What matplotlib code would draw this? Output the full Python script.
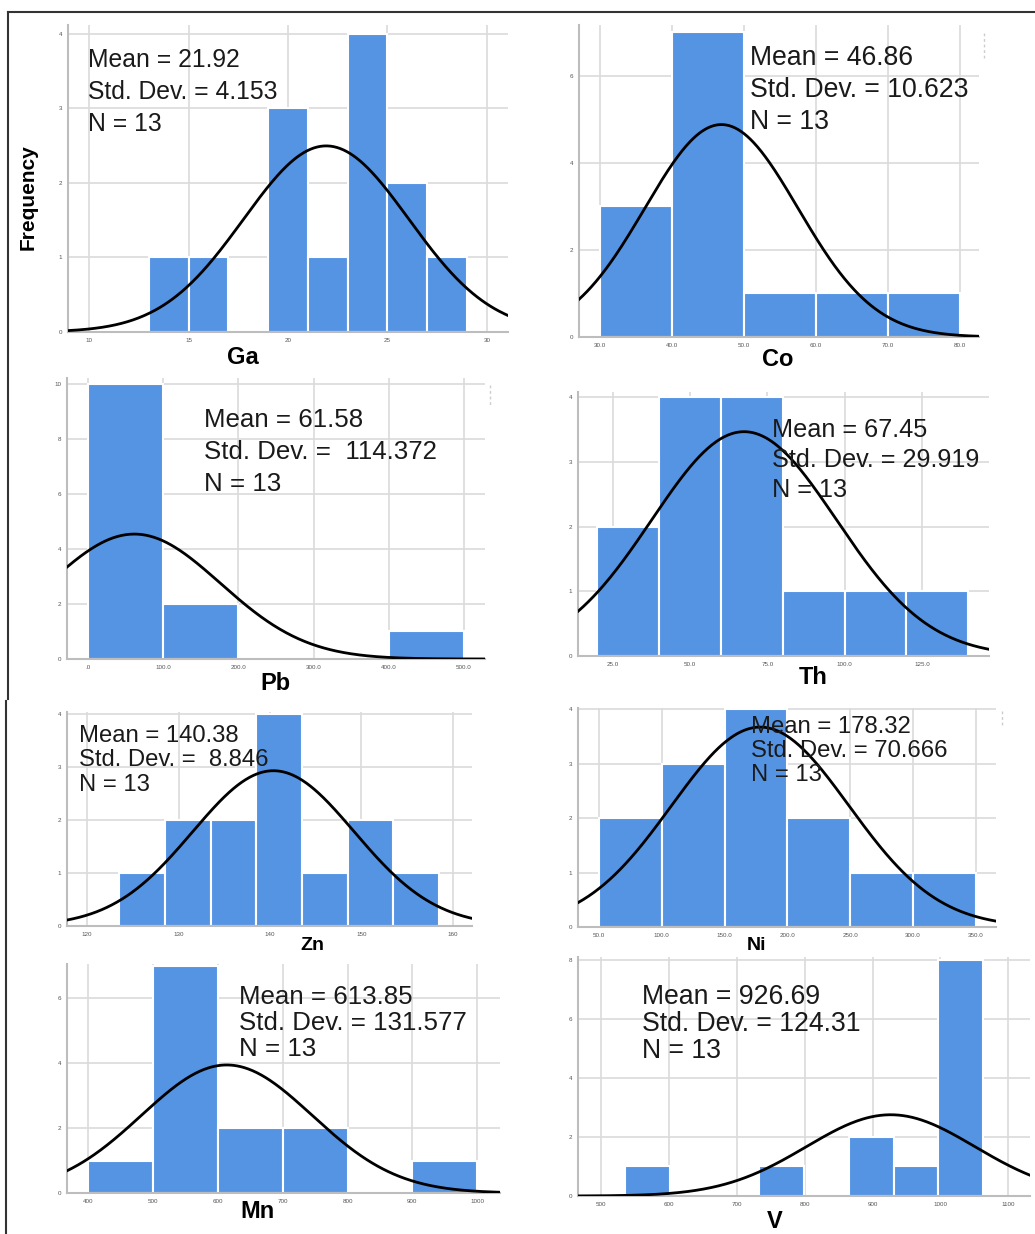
#!/usr/bin/env python3
# -*- coding: utf-8 -*-

import numpy as np
import matplotlib
matplotlib.use('Agg')
import matplotlib.pyplot as plt
from matplotlib.lines import Line2D

plt.rcParams['font.family'] = ['Liberation Sans', 'DejaVu Sans']

W, H = 1035, 1234

# element histograms (13 samples each)
elements = ['Ga', 'Co', 'Pb', 'Th', 'Zn', 'Ni', 'Mn', 'V']
means = [21.92, 46.86, 61.58, 67.45, 140.38, 178.32, 613.85, 926.69]
sds = [4.153, 10.623, 114.372, 29.919, 8.846, 70.666, 131.577, 124.31]
n_obs = [13, 13, 13, 13, 13, 13, 13, 13]
bin_start = [13, 30, 0, 20, 123.5, 50, 400, 535]
bin_width = [2, 10, 100, 20, 5, 50, 100, 66]
counts = [
    [1, 1, 0, 3, 1, 4, 2, 1],
    [3, 7, 1, 1, 1],
    [10, 2, 0, 0, 1],
    [2, 4, 4, 1, 1, 1],
    [1, 2, 2, 4, 1, 2, 1],
    [2, 3, 4, 2, 1, 1],
    [1, 7, 2, 2, 0, 1],
    [1, 0, 0, 1, 0, 2, 1, 8],
]
sd_text = ['4.153', '10.623', ' 114.372', '29.919', ' 8.846', '70.666', '131.577', '124.31']
xticks = [
    [10, 15, 20, 25, 30],
    [30, 40, 50, 60, 70, 80],
    [0, 100, 200, 300, 400, 500],
    [25, 50, 75, 100, 125],
    [120, 130, 140, 150, 160],
    [50, 100, 150, 200, 250, 300, 350],
    [400, 500, 600, 700, 800, 900, 1000],
    [500, 600, 700, 800, 900, 1000, 1100],
]
xtick_labels = [
    ['10', '15', '20', '25', '30'],
    ['30.0', '40.0', '50.0', '60.0', '70.0', '80.0'],
    ['.0', '100.0', '200.0', '300.0', '400.0', '500.0'],
    ['25.0', '50.0', '75.0', '100.0', '125.0'],
    ['120', '130', '140', '150', '160'],
    ['50.0', '100.0', '150.0', '200.0', '250.0', '300.0', '350.0'],
    ['400', '500', '600', '700', '800', '900', '1000'],
    ['500', '600', '700', '800', '900', '1000', '1100'],
]
yticks = [
    [0, 1, 2, 3, 4],
    [0, 2, 4, 6],
    [0, 2, 4, 6, 8, 10],
    [0, 1, 2, 3, 4],
    [0, 1, 2, 3, 4],
    [0, 1, 2, 3, 4],
    [0, 2, 4, 6],
    [0, 2, 4, 6, 8],
]

# panel layout in pixels: left, right, top, bottom, xlim, ylim top
frames = [
    (68, 508, 25, 332, (8.94, 31.06), 4.12),
    (579, 979, 25, 337, (27.1, 82.6), 7.17),
    (67, 485, 378, 659, (-28, 528), 10.2),
    (578, 989, 392, 656, (13.7, 146.7), 4.08),
    (67, 472, 712, 926, (117.8, 162.1), 4.04),
    (578, 996, 708, 927, (33.3, 366), 4.02),
    (67, 500, 964, 1193, (367.6, 1035), 7.05),
    (578, 1030, 957, 1196, (466, 1132), 8.1),
]
# stats box: x, y of first line, font size, line step (px)
stat_pos = [
    (88, 60, 17.8, 32), (750, 58, 19.2, 32), (204, 420, 18.6, 32), (772, 430, 18.2, 30),
    (79, 736, 17.2, 24.5), (751, 727, 17.2, 24), (239, 997, 18.6, 26), (642, 997, 19.2, 27),
]
# x axis title: center x, center y, font size
title_pos = [
    (243, 357, 17), (778, 360, 17), (275, 683, 17), (813, 678, 17),
    (312, 946, 14), (756, 946, 14), (258, 1212, 17), (775, 1222, 17),
]

BAR = '#5594e3'
GRID = '#dadada'


def fx(x):
    return x / W


def fy(y):
    return 1 - y / H


fig = plt.figure(figsize=(W / 100, H / 100), dpi=100)

for i, name in enumerate(elements):
    l, r, t, b, xlim, ytop = frames[i]
    ax = fig.add_axes([fx(l), fy(b), (r - l) / W, (b - t) / H])
    edges = bin_start[i] + bin_width[i] * np.arange(len(counts[i]))
    ax.bar(edges, counts[i], width=bin_width[i], align='edge',
           color=BAR, edgecolor='white', linewidth=1.5, zorder=2)

    xs = np.linspace(xlim[0], xlim[1], 400)
    pdf = np.exp(-0.5 * ((xs - means[i]) / sds[i]) ** 2) / (sds[i] * np.sqrt(2 * np.pi))
    ax.plot(xs, n_obs[i] * bin_width[i] * pdf, color='black', lw=2, zorder=3)

    ax.set_xlim(*xlim)
    ax.set_ylim(0, ytop)
    ax.set_xticks(xticks[i])
    ax.set_xticklabels(xtick_labels[i])
    ax.set_yticks(yticks[i])
    ax.tick_params(length=0, labelsize=4.5, labelcolor='#555555', pad=4)
    ax.grid(True, color=GRID, lw=1.2, zorder=0)
    ax.set_axisbelow(True)
    for s in ('top', 'right'):
        ax.spines[s].set_visible(False)
    for s in ('left', 'bottom'):
        ax.spines[s].set_color('#bdbdbd')
        ax.spines[s].set_linewidth(1.5)

    sx, sy, fs, step = stat_pos[i]
    lines = ['Mean = %.2f' % means[i], 'Std. Dev. = ' + sd_text[i], 'N = %d' % n_obs[i]]
    for k, txt in enumerate(lines):
        fig.text(fx(sx), fy(sy + k * step), txt, fontsize=fs, color='#1a1a1a',
                 ha='left', va='center', zorder=5)

    tx, ty, tfs = title_pos[i]
    fig.text(fx(tx), fy(ty), name, fontsize=tfs, fontweight='bold',
             ha='center', va='center')

fig.text(fx(28), fy(197), 'Frequency', fontsize=15, fontweight='bold',
         rotation=90, ha='center', va='center')

# faint leftover marks at the panel corners
for x, y0, y1 in [(984, 33, 58), (490, 385, 405), (1002, 711, 727)]:
    fig.add_artist(Line2D([fx(x), fx(x)], [fy(y0), fy(y1)], color='#cccccc',
                          lw=1, ls=(0, (2, 2))))

# outer frame lines
fig.add_artist(Line2D([fx(8), 1.0], [fy(12), fy(12)], color='#333333', lw=1.5))
fig.add_artist(Line2D([fx(8), fx(8)], [fy(12), fy(699)], color='#333333', lw=1.5))
fig.add_artist(Line2D([fx(6), fx(6)], [fy(701), 0.0], color='#333333', lw=1.5))

fig.savefig('out.png', dpi=100)
